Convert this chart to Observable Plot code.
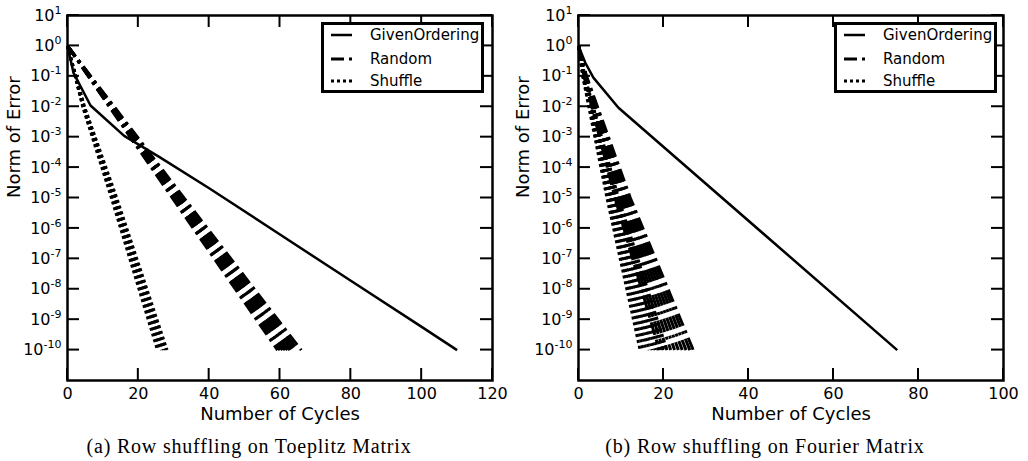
<!DOCTYPE html>
<html>
<head>
<meta charset="utf-8">
<script src="https://cdn.jsdelivr.net/npm/d3@7"></script>
<script src="https://cdn.jsdelivr.net/npm/@observablehq/plot@0.6"></script>
<style>
  body { margin: 0; background: #fff; width: 1028px; height: 461px; overflow: hidden; position: relative; font-family: "DejaVu Sans", sans-serif; }
  .panel { position: absolute; top: 0; }
  .legend { position: absolute; top: 22px; width: 157px; height: 65px; border: 3px solid #000; background: #fff; }
  .legend .row { position: absolute; left: 0; height: 20px; width: 100%; }
  .legend svg { position: absolute; left: 7px; top: 5px; }
  .legend span { position: absolute; left: 46px; top: 0; font-size: 15px; line-height: 20px; color: #000; }
  .caption { position: absolute; top: 436px; width: 514px; text-align: center; font-family: "Liberation Serif", serif; font-size: 20px; line-height: 20px; letter-spacing: 0.8px; color: #000; }
</style>
</head>
<body>
<script>
// ---------- data ----------
const seriesNames = ["GivenOrdering", "Random", "Shuffle"];
const xLabel = "Number of Cycles";
const yLabel = "Norm of Error";
const captions = ["(a) Row shuffling on Toeplitz Matrix", "(b) Row shuffling on Fourier Matrix"];
const yTicks = [1e-10, 1e-9, 1e-8, 1e-7, 1e-6, 1e-5, 1e-4, 1e-3, 1e-2, 1e-1, 1e0, 1e1];
const toeplitzXTicks = [0, 20, 40, 60, 80, 100, 120];
const fourierXTicks = [0, 20, 40, 60, 80, 100];

// (a) Toeplitz
const toeplitzGivenCycles = [0, 1.7, 6.5, 16, 26, 40, 60, 80, 100, 110];
const toeplitzGivenError  = [1, 1.3e-1, 1.1e-2, 1.1e-3, 2.2e-4, 2.1e-5, 6.3e-7, 1.9e-8, 5.8e-10, 1e-10];
const toeplitzRandomError = [1, 1e-2, 1e-5, 1e-10];
const toeplitzRandomCycles = [
  [0, 11.8, 29.6, 59.3],
  [0, 11.9, 29.9, 60.0],
  [0, 12.1, 30.3, 60.7],
  [0, 12.2, 30.6, 61.4],
  [0, 12.4, 31.0, 62.1],
  [0, 12.5, 31.3, 62.8],
  [0, 12.7, 31.7, 63.5],
  [0, 12.8, 32.0, 64.2],
  [0, 13.0, 32.4, 65.0],
  [0, 13.2, 32.9, 66.0]
];
const toeplitzShuffleError = [1, 1e-2, 1e-5, 1e-10];
const toeplitzShuffleCycles = [
  [0, 4.3, 12.4, 25.4],
  [0, 4.4, 12.7, 26.0],
  [0, 4.5, 13.0, 26.6],
  [0, 4.6, 13.3, 27.1],
  [0, 4.7, 13.6, 27.6],
  [0, 4.8, 13.9, 28.1]
];

// (b) Fourier
const fourierGivenCycles = [0, 1.6, 3.5, 9.4, 75];
const fourierGivenError  = [1, 2.8e-1, 9.1e-2, 9.3e-3, 1e-10];
const fourierRandomError = [1, 1e-1, 1e-5, 1e-10];
const fourierRandomCycles = [
  [0, 1.3, 8.6, 19.0],
  [0, 1.4, 9.0, 19.9],
  [0, 1.4, 9.4, 20.8],
  [0, 1.5, 9.8, 21.7],
  [0, 1.6, 10.2, 22.6],
  [0, 1.6, 10.6, 23.5],
  [0, 1.7, 11.0, 24.4],
  [0, 1.8, 11.4, 25.3],
  [0, 1.8, 11.8, 26.2],
  [0, 1.9, 12.2, 27.0]
];
const fourierShuffleError = [1, 1e-1, 1e-5, 1e-10];
const fourierShuffleCycles = [
  [0, 1.0, 6.7, 14.5],
  [0, 1.05, 7.0, 15.2],
  [0, 1.1, 7.3, 15.9],
  [0, 1.15, 7.6, 16.6],
  [0, 1.2, 7.9, 17.3],
  [0, 1.25, 8.2, 18.0],
  [0, 1.3, 8.5, 18.7],
  [0, 1.35, 8.8, 19.4],
  [0, 1.4, 9.1, 20.1],
  [0, 1.5, 9.4, 20.8]
];

// ---------- build tables ----------
function single(cycles, errors) { return cycles.map((c, i) => ({cycles: c, error: errors[i]})); }
function trials(rows, errors) { return rows.flatMap((row, t) => row.map((c, i) => ({trial: t, cycles: c, error: errors[i]}))); }

function superscripts(svg) {
  svg.querySelectorAll("text").forEach(t => {
    const m = /^10\^(-?\d+)$/.exec(t.textContent);
    if (!m) return;
    t.textContent = "";
    const base = document.createElementNS("http://www.w3.org/2000/svg", "tspan");
    base.textContent = "10";
    const sup = document.createElementNS("http://www.w3.org/2000/svg", "tspan");
    sup.textContent = m[1];
    sup.setAttribute("dy", "-7");
    sup.setAttribute("font-size", "11");
    t.appendChild(base);
    t.appendChild(sup);
  });
}

const HEIGHT = 432, MT = 15, MB = 52, TICK = 12;

// inward ticks on all four sides, placed with the plot's own scales
function inwardTicks(plot, xTicks, width, marginLeft, marginRight) {
  const sx = plot.scale("x"), sy = plot.scale("y");
  const top = MT, bottom = HEIGHT - MB, left = marginLeft, right = width - marginRight;
  const g = d3.select(plot).append("g").attr("stroke", "#000").attr("stroke-width", 2);
  xTicks.forEach(v => {
    const x = sx.apply(v);
    g.append("line").attr("x1", x).attr("x2", x).attr("y1", bottom).attr("y2", bottom - TICK);
    g.append("line").attr("x1", x).attr("x2", x).attr("y1", top).attr("y2", top + TICK);
  });
  yTicks.forEach(v => {
    const y = sy.apply(v);
    g.append("line").attr("x1", left).attr("x2", left + TICK).attr("y1", y).attr("y2", y);
    g.append("line").attr("x1", right).attr("x2", right - TICK).attr("y1", y).attr("y2", y);
  });
}

function panel({given, random, shuffle, xMax, xTicks, width, marginLeft, marginRight, yLabelDx}) {
  const lineStyle = {x: "cycles", y: "error", stroke: "#000", strokeLinecap: "butt", strokeLinejoin: "miter"};
  const plot = Plot.plot({
    width, height: HEIGHT,
    marginTop: MT, marginBottom: MB, marginLeft, marginRight,
    x: {domain: [0, xMax]},
    y: {type: "log", domain: [1e-11, 10]},
    style: {fontFamily: "DejaVu Sans", fontSize: "16px", color: "#000", background: "transparent", overflow: "visible"},
    marks: [
      Plot.line(random, {...lineStyle, z: "trial", strokeWidth: 3, strokeDasharray: "13,5,3,5"}),
      Plot.line(shuffle, {...lineStyle, z: "trial", strokeWidth: 3, strokeDasharray: "3,3"}),
      Plot.line(given, {...lineStyle, strokeWidth: 2.5, strokeLinejoin: "round"}),
      Plot.axisX(xTicks, {anchor: "bottom", tickSize: 0, tickPadding: 7, fontSize: 16, label: null}),
      Plot.axisY(yTicks, {anchor: "left", tickSize: 0, tickPadding: 6, fontSize: 16, label: null,
        tickFormat: d => `10^${Math.round(Math.log10(d))}`}),
      Plot.frame({stroke: "#000", strokeWidth: 2.5}),
      Plot.text([xLabel], {frameAnchor: "bottom", dy: 39, fontSize: 18, fill: "#000"}),
      Plot.text([yLabel], {frameAnchor: "left", rotate: -90, dx: yLabelDx, fontSize: 18, fill: "#000"})
    ]
  });
  superscripts(plot);
  inwardTicks(plot, xTicks, width, marginLeft, marginRight);
  return plot;
}

function legend(left) {
  const div = document.createElement("div");
  div.className = "legend";
  div.style.left = left + "px";
  const dashes = [null, "13,5,3,5", "3,3"];
  const widths = [2.5, 3, 3];
  const tops = [0, 24, 46];
  seriesNames.forEach((name, i) => {
    const row = document.createElement("div");
    row.className = "row";
    row.style.top = tops[i] + "px";
    const svg = d3.create("svg").attr("width", 22).attr("height", 10);
    const ln = svg.append("line").attr("x1", 0).attr("x2", 21).attr("y1", 5).attr("y2", 5)
      .attr("stroke", "#000").attr("stroke-width", widths[i]);
    if (dashes[i]) ln.attr("stroke-dasharray", dashes[i]);
    row.appendChild(svg.node());
    const s = document.createElement("span");
    s.textContent = name;
    row.appendChild(s);
    div.appendChild(row);
  });
  return div;
}

const left = panel({
  given: single(toeplitzGivenCycles, toeplitzGivenError),
  random: trials(toeplitzRandomCycles, toeplitzRandomError),
  shuffle: trials(toeplitzShuffleCycles, toeplitzShuffleError),
  xMax: 120, xTicks: toeplitzXTicks, width: 510, marginLeft: 67, marginRight: 18, yLabelDx: -53
});
left.classList.add("panel");
left.style.left = "0px";
document.body.appendChild(left);

const right = panel({
  given: single(fourierGivenCycles, fourierGivenError),
  random: trials(fourierRandomCycles, fourierRandomError),
  shuffle: trials(fourierShuffleCycles, fourierShuffleError),
  xMax: 100, xTicks: fourierXTicks, width: 520, marginLeft: 70, marginRight: 25, yLabelDx: -55
});
right.classList.add("panel");
right.style.left = "508px";
document.body.appendChild(right);

document.body.appendChild(legend(321));
document.body.appendChild(legend(834));

captions.forEach((c, i) => {
  const d = document.createElement("div");
  d.className = "caption";
  d.style.left = (i === 0 ? 249 - 257 : 765 - 257) + "px";
  d.textContent = c;
  document.body.appendChild(d);
});
</script>
</body>
</html>
